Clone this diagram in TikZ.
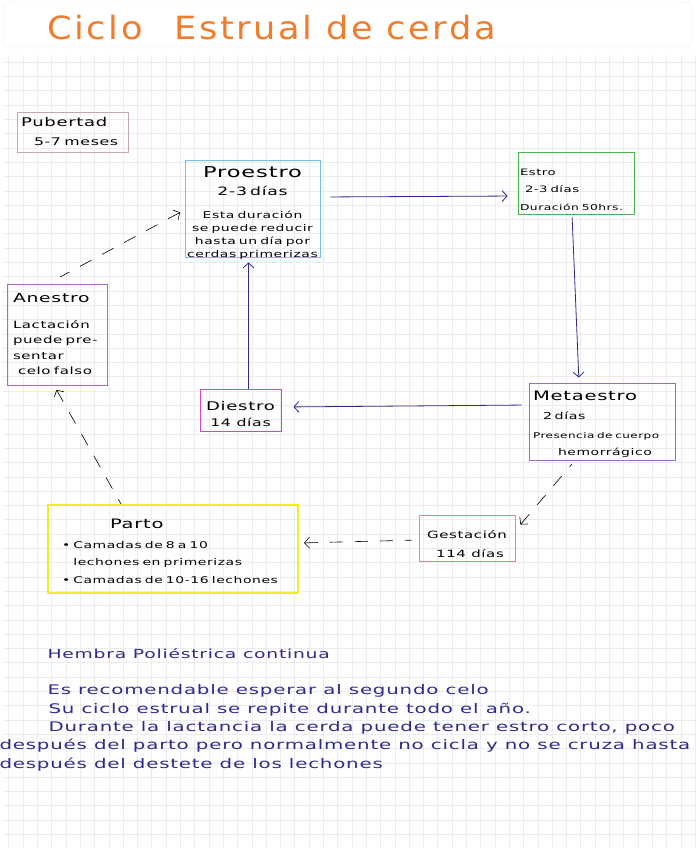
\documentclass[tikz,border=0pt]{standalone}
\usepackage{fontspec}
\setmainfont{DejaVu Sans}
\newfontfamily\hand[FakeStretch=1.5,LetterSpace=6]{DejaVu Sans}
\newfontfamily\handtit[FakeStretch=1.1,LetterSpace=8]{DejaVu Sans}
\usepackage{xcolor}
\usetikzlibrary{arrows, arrows.meta}
\usetikzlibrary{calc}

\newcommand\tam[2]{\fontsize{#1}{#2}\selectfont}

\definecolor{tinta}{HTML}{2E2A8C}
\definecolor{naranja}{HTML}{F07C2E}
\definecolor{rejilla}{HTML}{ECECF0}
\definecolor{pubcol}{HTML}{C4A9AC}
\definecolor{procol}{HTML}{72C3E6}
\definecolor{estcol}{HTML}{45B54C}
\definecolor{anecol}{HTML}{B464C8}
\definecolor{diecol}{HTML}{C84AC8}
\definecolor{metcol}{HTML}{9A6ACB}
\definecolor{gescol}{HTML}{E08A8E}
\definecolor{parcol}{HTML}{F2EC24}

\tikzset{
etapa/.style={draw, line width=0.9pt, inner ysep=0pt, inner xsep=4pt},
flecha/.style={-{Straight Barb[length=5pt,width=11pt]}, draw=tinta, line width=0.8pt},
salto/.style={{Straight Barb[length=5pt,width=11pt]}-, line width=0.6pt, dash pattern=on 13pt off 12pt},
nota/.style={anchor=west, text=tinta, font=\hand\tam{13.2}{15}},
}

\begin{document}
\begin{tikzpicture}[x=1pt,y=-1pt]
\useasboundingbox (0,0) rectangle (696,848);
\fill[white] (0,0) rectangle (696,848);

% hoja cuadriculada
\draw[rejilla, rounded corners=6pt] (3,2) rectangle (692,47);
\foreach \gx in {8.6,22.9,...,696} \draw[rejilla, line width=0.35pt] (\gx,55) -- (\gx,848);
\foreach \gy in {62,76.3,...,848} \draw[rejilla, line width=0.35pt] (3,\gy) -- (696,\gy);

\node[anchor=west, text=naranja, font=\handtit\tam{32}{34}] (titulo) at (44,28) {Ciclo\quad Estrual de cerda};

% etapas
\node[etapa, draw=pubcol, minimum width=111, minimum height=40, text height=15pt, text depth=25pt, text width=103, align=left, font=\hand\tam{10.5}{18}] (pub) at (72.5,132)
  {{\tam{12}{18}Pubertad}\\\hspace*{13pt}5-7 meses};
\node[etapa, draw=procol, minimum width=135, minimum height=97, text height=17pt, text depth=80pt, inner xsep=2pt, text width=131, align=center, font=\hand\tam{9.3}{12.8}] (pro) at (252.5,208.5)
  {{\tam{15}{12.8}Proestro}\\[6pt]{\tam{11.5}{12.8}2-3 días}\\[10pt]Esta duración\\se puede reducir\\hasta un día por\\cerdas primerizas};
\node[etapa, draw=estcol, minimum width=116, minimum height=62, text height=23pt, text depth=39pt, inner xsep=2pt, text width=112, align=left, font=\hand\tam{8.8}{17.5}] (est) at (576,183)
  {Estro\\\hspace*{5pt}2-3 días\\{\tam{8.2}{17.5}Duración 50hrs.}};
\node[etapa, draw=anecol, minimum width=100, minimum height=101, text height=18pt, text depth=83pt, inner xsep=6pt, text width=88, align=left, font=\hand\tam{10}{15.5}] (ane) at (57,334.5)
  {{\tam{12.5}{15.5}Anestro}\\[10.5pt]Lactación\\puede pre-\\sentar\\\hspace*{5pt}celo falso};
\node[etapa, draw=diecol, minimum width=81, minimum height=42, text height=37pt, text depth=5pt, inner xsep=1pt, align=center, font=\hand\tam{12}{16}] (die) at (240.5,410)
  {Diestro\\{\tam{10.5}{16}14 días}};
\node[etapa, draw=metcol, minimum width=146, minimum height=77, text height=17pt, text depth=60pt, inner xsep=4pt, text width=138, align=left, font=\hand\tam{8}{19}] (met) at (602,421.5)
  {{\tam{13}{19}Metaestro}\\\hspace*{10pt}{\tam{9.5}{19}2 días}\\Presencia de cuerpo\\[-2pt]\hspace*{25pt}{\tam{9.3}{19}hemorrágico}};
\node[etapa, draw=gescol, minimum width=96, minimum height=46, text height=42pt, text depth=4pt, inner xsep=1pt, align=center, font=\hand\tam{10}{19}] (ges) at (467,538)
  {Gestación\\\hspace*{6pt}114 días};
\node[etapa, draw=parcol, line width=2.2pt, minimum width=250, minimum height=88, text height=23pt, text depth=65pt, inner xsep=14pt, text width=222, align=left, font=\hand\tam{9.3}{17.5}] (par) at (173,549)
  {\hspace*{48pt}{\tam{13}{17.5}Parto}\\[2.5pt]• Camadas de 8 a 10\\\phantom{• }lechones en primerizas\\• Camadas de 10-16 lechones};

% ciclo
\draw[flecha, shorten <=10pt, shorten >=10pt] ([yshift=11.5pt]pro.east) -- ([yshift=-13pt]est.west);
\draw[flecha, shorten <=3pt, shorten >=5pt] ([xshift=-4pt]est.south) -- ([xshift=-23pt]met.north);
\draw[flecha, shorten <=7pt, shorten >=12pt] ([yshift=16.5pt]met.west) -- ([yshift=3pt]die.east);
\draw[flecha, shorten >=5pt] ([xshift=8pt]die.north) -- ([xshift=-4pt]pro.south);
% tramos discontinuos (dibujados desde la punta)
\draw[salto, shorten >=5pt] ([shift={(5pt,-10pt)}]ges.north east) -- ([xshift=-27pt]met.south);
\draw[salto, shorten <=5pt, shorten >=7pt] ([yshift=6pt]par.east) -- ([yshift=-2pt]ges.west);
\draw[salto, shorten <=5pt] ([xshift=-3pt]ane.south) -- ([xshift=-52pt]par.north);
\draw[salto, shorten <=5pt, shorten >=14pt] ([yshift=-1.5pt]pro.west) -- ([xshift=-9pt]ane.north);

% notas
\node[nota, font=\hand\tam{12.5}{15}] (hembra) at (44,654) {Hembra Poliéstrica continua};
\node[nota] (nota1) at (44,691) {Es recomendable esperar al segundo celo};
\node[nota] (nota2) at (45,710) {Su ciclo estrual se repite durante todo el año.};
\node[nota] (nota3) at (45,728) {Durante la lactancia la cerda puede tener estro corto, poco};
\node[nota] (nota4) at (-4,746) {después del parto pero normalmente no cicla y no se cruza hasta};
\node[nota] (nota5) at (-4,765) {después del destete de los lechones};
\end{tikzpicture}
\end{document}
